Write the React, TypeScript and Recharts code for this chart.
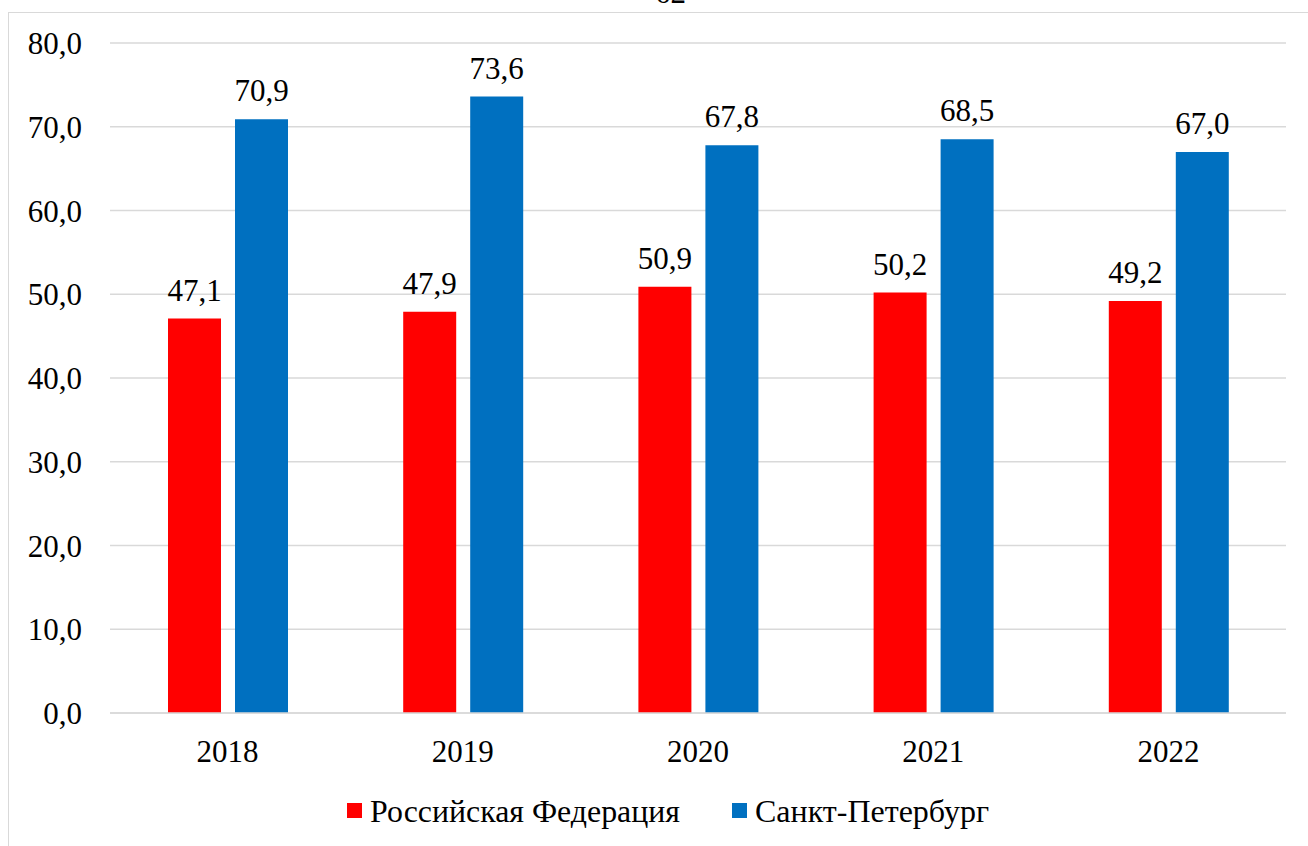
import { Bar, BarChart, CartesianGrid, LabelList, Legend, XAxis, YAxis } from 'recharts';

const years = ['2018', '2019', '2020', '2021', '2022'];
const russia = [47.1, 47.9, 50.9, 50.2, 49.2];
const spb = [70.9, 73.6, 67.8, 68.5, 67.0];
const yTicks = [0, 10, 20, 30, 40, 50, 60, 70, 80];

const RED = '#FF0000';
const BLUE = '#0070C0';
const GRID = '#D9D9D9';
const FONT = "'Liberation Serif', 'Times New Roman', Tinos, 'DejaVu Serif', serif";

const data = years.map((year, i) => ({ year, rf: russia[i], spb: spb[i] }));

const fmt = (v: number) => v.toFixed(1).replace('.', ',');

const textStyle = { fill: '#000', fontSize: 31, fontFamily: FONT };

const legendItems = [
  { key: 'rf', name: 'Российская Федерация', color: RED, x: 347, textW: 310 },
  { key: 'spb', name: 'Санкт-Петербург', color: BLUE, x: 732, textW: 234 },
];

function ChartLegend() {
  return (
    <svg width={1308} height={60} style={{ display: 'block' }}>
      {legendItems.map((it) => (
        <g key={it.key}>
          <rect x={it.x} y={17} width={15} height={15} fill={it.color} />
          <text
            x={it.x + 23}
            y={35.5}
            style={textStyle}
            textLength={it.textW}
            lengthAdjust="spacingAndGlyphs"
          >
            {it.name}
          </text>
        </g>
      ))}
    </svg>
  );
}

export default function App() {
  return (
    <div
      style={{
        position: 'absolute',
        left: 0,
        top: 0,
        width: 1308,
        height: 846,
        overflow: 'hidden',
        background: '#fff',
        fontFamily: FONT,
      }}
    >
      {/* page number above the frame */}
      <svg width={1308} height={20} style={{ position: 'absolute', left: 0, top: 0 }}>
        <text x={670.5} y={3} textAnchor="middle" style={textStyle}>
          62
        </text>
      </svg>
      <div
        style={{
          position: 'absolute',
          left: 8,
          top: 12,
          width: 1400,
          height: 900,
          border: `1.5px solid ${GRID}`,
          boxSizing: 'border-box',
        }}
      />
      <div style={{ position: 'absolute', left: 0, top: 0 }}>
        <BarChart
          width={1308}
          height={846}
          data={data}
          margin={{ top: 43, right: 22, left: 0, bottom: 0 }}
          barSize={53}
          barGap={14}
          style={{ fontFamily: FONT }}
        >
          <CartesianGrid vertical={false} stroke={GRID} strokeWidth={1.5} />
          <XAxis
            dataKey="year"
            height={73}
            axisLine={{ stroke: GRID, strokeWidth: 1.5 }}
            tickLine={false}
            tickMargin={21}
            tick={{ ...textStyle, style: textStyle }}
          />
          <YAxis
            width={110}
            domain={[0, 80]}
            ticks={yTicks}
            axisLine={false}
            tickLine={false}
            tickMargin={22}
            tickFormatter={fmt}
            tick={{ ...textStyle, style: textStyle }}
          />
          <Legend
            verticalAlign="bottom"
            height={60}
            content={() => <ChartLegend />}
            wrapperStyle={{ left: 0, width: 1308 }}
          />
          <Bar dataKey="rf" name="Российская Федерация" fill={RED} isAnimationActive={false}>
            <LabelList
              dataKey="rf"
              position="top"
              offset={18}
              formatter={(v: number) => fmt(v)}
              style={textStyle}
            />
          </Bar>
          <Bar dataKey="spb" name="Санкт-Петербург" fill={BLUE} isAnimationActive={false}>
            <LabelList
              dataKey="spb"
              position="top"
              offset={18}
              formatter={(v: number) => fmt(v)}
              style={textStyle}
            />
          </Bar>
        </BarChart>
      </div>
    </div>
  );
}
